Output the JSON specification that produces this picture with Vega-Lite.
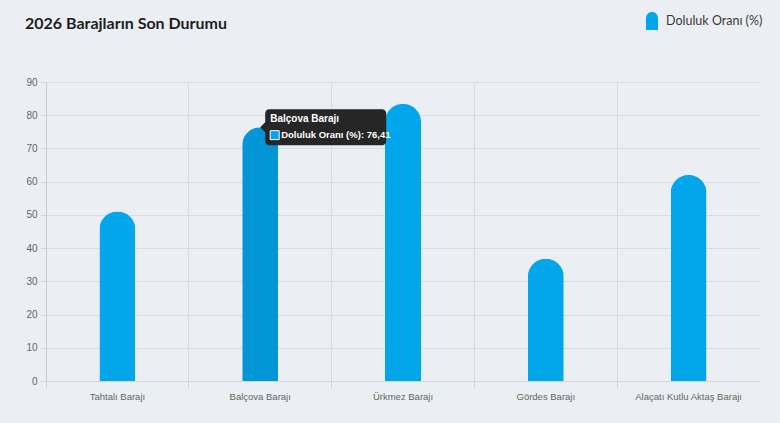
{
  "$schema": "https://vega.github.io/schema/vega-lite/v6.json",
  "autosize": {"type": "none"},
  "width": 714,
  "height": 299,
  "padding": {"left": 46, "top": 82, "right": 20, "bottom": 42},
  "background": "#ebeef2",
  "title": {
    "text": "2026 Barajların Son Durumu",
    "anchor": "start",
    "frame": "group",
    "dx": -21,
    "offset": -33,
    "baseline": "alphabetic",
    "font": "Lato",
    "fontWeight": "bold",
    "fontSize": 16,
    "color": "#1e1e1e"
  },
  "config": {
    "view": {"stroke": null},
    "axis": {
      "labelFont": "Liberation Sans",
      "labelFontSize": 9.5,
      "labelColor": "#666666",
      "gridColor": "#d9dde2",
      "domainColor": "#c8ccd1",
      "tickColor": "#d2d6db",
      "title": null
    }
  },
  "data": {
    "values": [
      {"dam": "Tahtalı Barajı", "value": 51.0},
      {"dam": "Balçova Barajı", "value": 76.41},
      {"dam": "Ürkmez Barajı", "value": 83.4},
      {"dam": "Gördes Barajı", "value": 36.8},
      {"dam": "Alaçatı Kutlu Aktaş Barajı", "value": 62.0}
    ]
  },
  "encoding": {
    "x": {
      "field": "dam",
      "type": "nominal",
      "sort": null,
      "scale": {"paddingInner": 0, "paddingOuter": 0},
      "axis": {
        "labelAngle": 0,
        "bandPosition": 0,
        "tickExtra": false,
        "grid": true,
        "tickSize": 7,
        "labelPadding": 3,
        "domainColor": "#d2d6db"
      }
    },
    "y": {
      "field": "value",
      "type": "quantitative",
      "scale": {"domain": [0, 90], "nice": false},
      "axis": {
        "values": [0, 10, 20, 30, 40, 50, 60, 70, 80, 90],
        "tickSize": 6,
        "labelPadding": 3,
        "labelFontSize": 10,
        "grid": true,
        "domainColor": "#c8ccd1"
      }
    }
  },
  "layer": [
    {
      "mark": {"type": "bar", "width": 36, "cornerRadiusEnd": 18},
      "encoding": {
        "color": {
          "condition": {"test": "datum.dam === 'Balçova Barajı'", "value": "#0396d6"},
          "datum": "Doluluk Oranı (%)",
          "scale": {"range": ["#03a6eb"]},
          "legend": {
            "title": null,
            "orient": "none",
            "legendX": 597,
            "legendY": -70,
            "padding": 0,
            "symbolType": "M-0.667,1 L-0.667,-0.333 A0.667,0.667 0 0 1 0.667,-0.333 L0.667,1 Z",
            "symbolSize": 324,
            "symbolStrokeWidth": 0,
            "symbolOpacity": 1,
            "labelOffset": 5,
            "labelFont": "Lato",
            "labelFontSize": 12.5,
            "labelColor": "#3a3a3a"
          }
        }
      }
    },
    {
      "transform": [{"filter": "datum.dam === 'Balçova Barajı'"}],
      "mark": {
        "type": "point",
        "shape": "M-0.934,-0.2975 L0.934,-0.2975 A0.066,0.066 0 0 1 1,-0.2315 L1,0.2315 A0.066,0.066 0 0 1 0.934,0.2975 L-0.934,0.2975 A0.066,0.066 0 0 1 -1,0.2315 L-1,0.083 L-1.083,0 L-1,-0.083 L-1,-0.2315 A0.066,0.066 0 0 1 -0.934,-0.2975 Z",
        "size": 14641,
        "filled": true,
        "fill": "#262626",
        "opacity": 1,
        "strokeWidth": 0,
        "xOffset": 65.5
      }
    },
    {
      "transform": [{"filter": "datum.dam === 'Balçova Barajı'"}],
      "mark": {
        "type": "text",
        "align": "left",
        "baseline": "middle",
        "font": "Liberation Sans",
        "fontWeight": "bold",
        "fontSize": 10,
        "color": "#ffffff",
        "xOffset": 10,
        "dy": -8
      },
      "encoding": {"text": {"field": "dam"}}
    },
    {
      "transform": [{"filter": "datum.dam === 'Balçova Barajı'"}],
      "mark": {
        "type": "point",
        "shape": "square",
        "size": 81,
        "filled": true,
        "fill": "#03a6eb",
        "opacity": 1,
        "stroke": "#ffffff",
        "strokeWidth": 1,
        "xOffset": 14.5,
        "yOffset": 8
      }
    },
    {
      "transform": [{"filter": "datum.dam === 'Balçova Barajı'"}],
      "mark": {
        "type": "text",
        "align": "left",
        "baseline": "middle",
        "font": "Liberation Sans",
        "fontWeight": "bold",
        "fontSize": 9.5,
        "color": "#ffffff",
        "xOffset": 21,
        "dy": 8
      },
      "encoding": {"text": {"value": "Doluluk Oranı (%): 76,41"}}
    }
  ]
}
